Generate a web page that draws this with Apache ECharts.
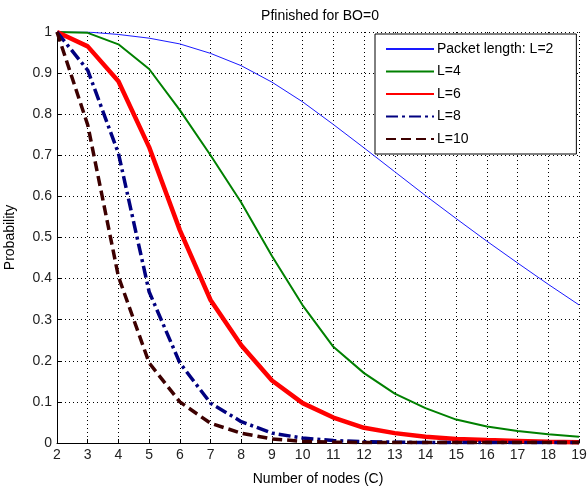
<!DOCTYPE html>
<html><head><meta charset="utf-8">
<script src="https://cdn.jsdelivr.net/npm/echarts@6/dist/echarts.min.js"></script>
<style>html,body{margin:0;padding:0;background:#fff}#c{width:587px;height:487px}</style>
</head><body><div id="c"></div>
<script>
const nodes = [2,3,4,5,6,7,8,9,10,11,12,13,14,15,16,17,18,19];
const L2  = [1.0,1.0,0.994,0.985,0.971,0.948,0.918,0.878,0.83,0.775,0.718,0.66,0.602,0.546,0.491,0.438,0.386,0.336];
const L4  = [1.0,0.998,0.97,0.91,0.81,0.70,0.585,0.455,0.335,0.234,0.17,0.12,0.085,0.057,0.04,0.029,0.021,0.015];
const L6  = [1.0,0.965,0.88,0.72,0.518,0.348,0.238,0.152,0.097,0.062,0.037,0.024,0.015,0.01,0.007,0.005,0.003,0.002];
const L8  = [1.0,0.907,0.705,0.368,0.195,0.097,0.052,0.024,0.012,0.006,0.003,0.002,0.001,0.001,0.001,0.001,0.001,0.001];
const L10 = [1.0,0.774,0.405,0.195,0.10,0.048,0.024,0.01,0.004,0.002,0.001,0.001,0.001,0.001,0.001,0.001,0.001,0.001];
const names = ['Packet length: L=2','L=4','L=6','L=8','L=10'];
const yTicks = [0,0.1,0.2,0.3,0.4,0.5,0.6,0.7,0.8,0.9,1];

const pairs = a => nodes.map((x,i)=>[x,a[i]]);
const font = 'Liberation Sans, Arial, sans-serif';
const chart = echarts.init(document.getElementById('c'));
const styles = [
  {color:'#1a1aff', width:1, type:'solid'},
  {color:'#008000', width:2, type:'solid'},
  {color:'#ff0000', width:4.5, type:'solid'},
  {color:'#000080', width:3.5, type:[12,4,3,4]},
  {color:'#3d0000', width:3.5, type:[10,5]}
];
const data = [L2,L4,L6,L8,L10];
chart.setOption({
  animation:false,
  title:{text:'Pfinished for BO=0', left:315, textAlign:'center', top:4,
    textStyle:{fontFamily:font, fontSize:14, fontWeight:'normal', color:'#000'}},
  grid:{left:57, right:8, top:32, bottom:44, containLabel:false, outerBoundsMode:'none'},
  legend:{
    orient:'vertical', left:375, top:34,
    backgroundColor:'#fff', borderColor:'#000', borderWidth:1,
    padding:[8,23,8,10], itemWidth:48, itemHeight:14, itemGap:8.5,
    itemStyle:{opacity:0},
    textStyle:{fontFamily:font, fontSize:14, color:'#000', padding:[0,0,0,-2]},
    data:names
  },
  xAxis:{type:'value', min:2, max:19, interval:1,
    name:'Number of nodes (C)', nameLocation:'middle', nameGap:29,
    nameTextStyle:{fontFamily:font, fontSize:14, color:'#000'},
    axisLine:{lineStyle:{color:'#000', width:1}},
    axisTick:{inside:true, length:4, lineStyle:{color:'#000'}},
    axisLabel:{fontFamily:font, fontSize:14, color:'#222', margin:5},
    splitLine:{show:true, lineStyle:{color:'#000', type:[1,3], width:1}}
  },
  yAxis:{type:'value', min:0, max:1, interval:0.1,
    name:'Probability', nameLocation:'middle', nameGap:40,
    nameTextStyle:{fontFamily:font, fontSize:14, color:'#000'},
    axisLine:{show:true, lineStyle:{color:'#000', width:1}},
    axisTick:{show:true, inside:true, length:4, lineStyle:{color:'#000'}},
    axisLabel:{fontFamily:font, fontSize:14, color:'#222', margin:5,
      formatter:v=>{const t=yTicks.find(k=>Math.abs(k-v)<1e-9);return t===undefined?'':String(t);}},
    splitLine:{show:true, lineStyle:{color:'#000', type:[1,3], width:1}}
  },
  series:data.map((d,i)=>({
    name:names[i], type:'line', data:pairs(d), symbol:'none', smooth:false,
    lineStyle:styles[i], itemStyle:{color:styles[i].color}, z:2+i
  }))
});
</script></body></html>
